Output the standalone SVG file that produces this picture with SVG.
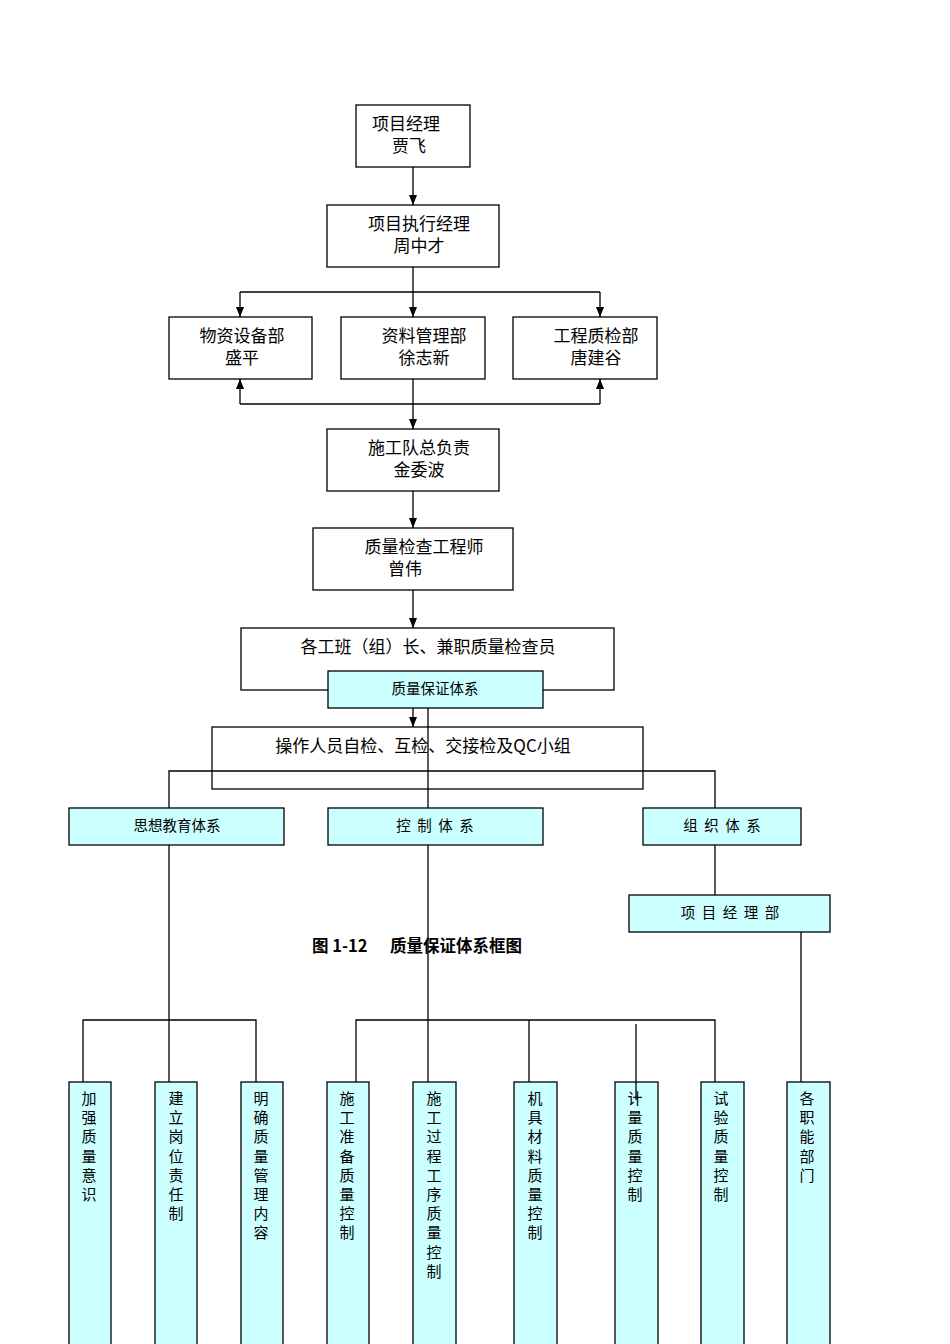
<svg xmlns="http://www.w3.org/2000/svg" width="950" height="1344" viewBox="0 0 950 1344">
<style>
.b{fill:#fff;stroke:#000;stroke-width:1.3}
.c{fill:#ccffff;stroke:#000;stroke-width:1.3}
.l{stroke:#000;stroke-width:1.3;fill:none}
text{font-family:"Noto Sans CJK SC","Liberation Serif",serif;fill:#000}
.t{font-size:17px;text-anchor:middle}
.s{font-size:14.5px;text-anchor:middle}
.v{font-size:15px;text-anchor:middle}
</style>
<defs><marker id="a" viewBox="0 0 10 10" refX="10" refY="5" markerWidth="8" markerHeight="8" orient="auto"><path d="M0,1L10,5L0,9z" fill="#000"/></marker></defs>
<rect width="950" height="1344" fill="#fff"/>
<g id="connectors">
<path class="l" d="M413,167V205" marker-end="url(#a)"/>
<path class="l" d="M413,267V317" marker-end="url(#a)"/>
<path class="l" d="M240,292H600"/>
<path class="l" d="M240,292V317" marker-end="url(#a)"/>
<path class="l" d="M600,292V317" marker-end="url(#a)"/>
<path class="l" d="M240,404H600"/>
<path class="l" d="M240,404V379" marker-end="url(#a)"/>
<path class="l" d="M600,404V379" marker-end="url(#a)"/>
<path class="l" d="M413,379V429" marker-end="url(#a)"/>
<path class="l" d="M413,491V528" marker-end="url(#a)"/>
<path class="l" d="M413,590V628" marker-end="url(#a)"/>
<path class="l" d="M413,708V727" marker-end="url(#a)"/>
<path class="l" d="M169,808V771H715V808"/>
<path class="l" d="M715,845V895"/>
<path class="l" d="M169,845V1082"/>
<path class="l" d="M83,1082V1020H256V1082"/>
<path class="l" d="M356,1082V1020H715V1082"/>
<path class="l" d="M529,1020V1082"/>
<path class="l" d="M636,1024V1100"/>
<path class="l" d="M801,932V1082"/>
</g>
<g id="n1"><rect class="b" x="356" y="105" width="114" height="62"/><text class="t" x="406" y="130">项目经理</text><text class="t" x="409" y="152">贾飞</text></g>
<g id="n2"><rect class="b" x="327" y="205" width="172" height="62"/><text class="t" x="419" y="230">项目执行经理</text><text class="t" x="419" y="252">周中才</text></g>
<g id="n3"><rect class="b" x="169" y="317" width="143" height="62"/><text class="t" x="242" y="342">物资设备部</text><text class="t" x="242" y="364">盛平</text></g>
<g id="n4"><rect class="b" x="341" y="317" width="144" height="62"/><text class="t" x="424" y="342">资料管理部</text><text class="t" x="424" y="364">徐志新</text></g>
<g id="n5"><rect class="b" x="513" y="317" width="144" height="62"/><text class="t" x="596" y="342">工程质检部</text><text class="t" x="596" y="364">唐建谷</text></g>
<g id="n6"><rect class="b" x="327" y="429" width="172" height="62"/><text class="t" x="419" y="454">施工队总负责</text><text class="t" x="419" y="476">金委波</text></g>
<g id="n7"><rect class="b" x="313" y="528" width="200" height="62"/><text class="t" x="424" y="553">质量检查工程师</text><text class="t" x="405" y="575">曾伟</text></g>
<g id="n8"><rect class="b" x="241" y="628" width="373" height="62"/><text class="t" x="428" y="653">各工班（组）长、兼职质量检查员</text></g>
<g id="n9"><rect class="c" x="328" y="671" width="215" height="37"/><text class="s" x="435" y="694">质量保证体系</text></g>
<g id="n10"><rect class="b" x="212" y="727" width="431" height="62" fill-opacity="0"/><text class="t" x="423" y="752">操作人员自检、互检、交接检及QC小组</text></g>
<path class="l" d="M428,708V1082"/>
<g id="n11"><rect class="c" x="69" y="808" width="215" height="37"/><text class="s" x="177" y="831">思想教育体系</text></g>
<g id="n12"><rect class="c" x="328" y="808" width="215" height="37"/><text class="s" x="435" y="831" xml:space="preserve">控  制  体  系</text></g>
<g id="n13"><rect class="c" x="643" y="808" width="158" height="37"/><text class="s" x="722" y="831" xml:space="preserve">组  织  体  系</text></g>
<g id="n14"><rect class="c" x="629" y="895" width="201" height="37"/><text class="s" x="730" y="918" xml:space="preserve">项  目  经  理  部</text></g>
<text x="312" y="952" style="font-size:16.5px;font-weight:bold" xml:space="preserve">图 1-12      质量保证体系框图</text>
<g id="cols">
<g id="c1"><rect class="c" x="69" y="1082" width="42" height="270"/></g>
<g id="c2"><rect class="c" x="155" y="1082" width="42" height="270"/></g>
<g id="c3"><rect class="c" x="241" y="1082" width="42" height="270"/></g>
<g id="c4"><rect class="c" x="327" y="1082" width="42" height="270"/></g>
<g id="c5"><rect class="c" x="413" y="1082" width="43" height="270"/></g>
<g id="c6"><rect class="c" x="514" y="1082" width="43" height="270"/></g>
<g id="c7"><rect class="c" x="615" y="1082" width="43" height="270"/></g>
<g id="c8"><rect class="c" x="701" y="1082" width="43" height="270"/></g>
<g id="c9"><rect class="c" x="787" y="1082" width="43" height="270"/></g>
</g>
<path class="l" d="M636,1082V1100"/>
<g>
<text x="89" y="1104" class="v"><tspan x="89">加</tspan><tspan x="89" dy="19.2">强</tspan><tspan x="89" dy="19.2">质</tspan><tspan x="89" dy="19.2">量</tspan><tspan x="89" dy="19.2">意</tspan><tspan x="89" dy="19.2">识</tspan></text>
<text x="176" y="1104" class="v"><tspan x="176">建</tspan><tspan x="176" dy="19.2">立</tspan><tspan x="176" dy="19.2">岗</tspan><tspan x="176" dy="19.2">位</tspan><tspan x="176" dy="19.2">责</tspan><tspan x="176" dy="19.2">任</tspan><tspan x="176" dy="19.2">制</tspan></text>
<text x="261" y="1104" class="v"><tspan x="261">明</tspan><tspan x="261" dy="19.2">确</tspan><tspan x="261" dy="19.2">质</tspan><tspan x="261" dy="19.2">量</tspan><tspan x="261" dy="19.2">管</tspan><tspan x="261" dy="19.2">理</tspan><tspan x="261" dy="19.2">内</tspan><tspan x="261" dy="19.2">容</tspan></text>
<text x="347" y="1104" class="v"><tspan x="347">施</tspan><tspan x="347" dy="19.2">工</tspan><tspan x="347" dy="19.2">准</tspan><tspan x="347" dy="19.2">备</tspan><tspan x="347" dy="19.2">质</tspan><tspan x="347" dy="19.2">量</tspan><tspan x="347" dy="19.2">控</tspan><tspan x="347" dy="19.2">制</tspan></text>
<text x="434" y="1104" class="v"><tspan x="434">施</tspan><tspan x="434" dy="19.2">工</tspan><tspan x="434" dy="19.2">过</tspan><tspan x="434" dy="19.2">程</tspan><tspan x="434" dy="19.2">工</tspan><tspan x="434" dy="19.2">序</tspan><tspan x="434" dy="19.2">质</tspan><tspan x="434" dy="19.2">量</tspan><tspan x="434" dy="19.2">控</tspan><tspan x="434" dy="19.2">制</tspan></text>
<text x="535" y="1104" class="v"><tspan x="535">机</tspan><tspan x="535" dy="19.2">具</tspan><tspan x="535" dy="19.2">材</tspan><tspan x="535" dy="19.2">料</tspan><tspan x="535" dy="19.2">质</tspan><tspan x="535" dy="19.2">量</tspan><tspan x="535" dy="19.2">控</tspan><tspan x="535" dy="19.2">制</tspan></text>
<text x="635" y="1104" class="v"><tspan x="635">计</tspan><tspan x="635" dy="19.2">量</tspan><tspan x="635" dy="19.2">质</tspan><tspan x="635" dy="19.2">量</tspan><tspan x="635" dy="19.2">控</tspan><tspan x="635" dy="19.2">制</tspan></text>
<text x="721" y="1104" class="v"><tspan x="721">试</tspan><tspan x="721" dy="19.2">验</tspan><tspan x="721" dy="19.2">质</tspan><tspan x="721" dy="19.2">量</tspan><tspan x="721" dy="19.2">控</tspan><tspan x="721" dy="19.2">制</tspan></text>
<text x="807" y="1104" class="v"><tspan x="807">各</tspan><tspan x="807" dy="19.2">职</tspan><tspan x="807" dy="19.2">能</tspan><tspan x="807" dy="19.2">部</tspan><tspan x="807" dy="19.2">门</tspan></text>
</g>
</svg>
